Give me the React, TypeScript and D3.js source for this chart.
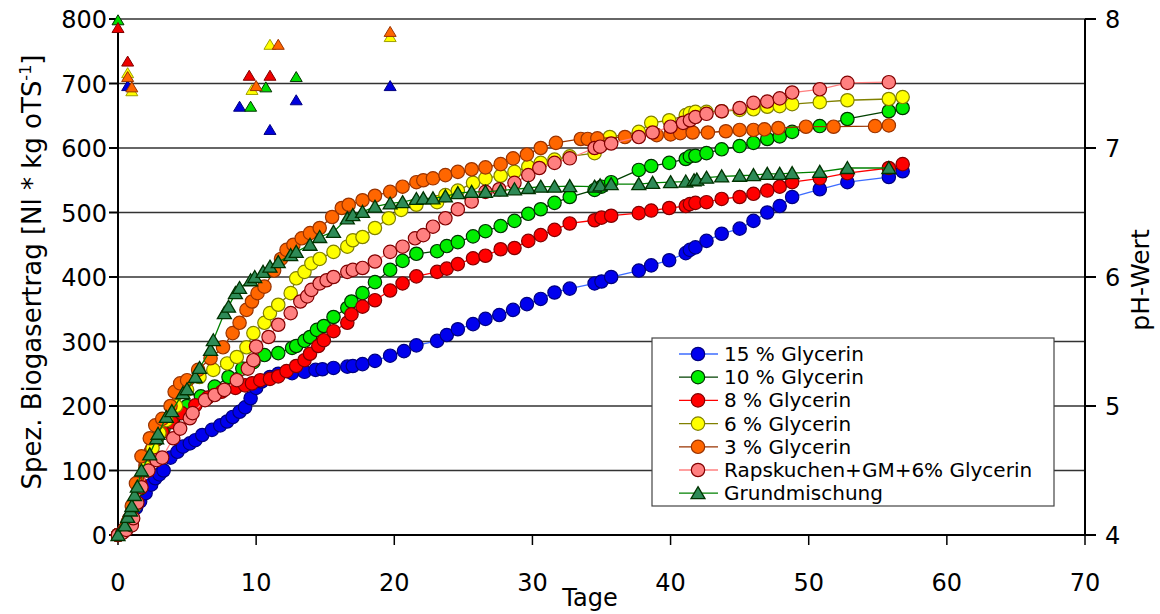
import React from 'react';
import * as d3 from 'd3';

// ---- data (day, Nl/kg oTS) ----
const s15: [number, number][] = [[0,0],[0.4,5],[0.7,15],[1.0,28],[1.3,42],[1.6,52],[2.0,65],[2.4,78],[2.7,88],[3.0,94],[3.3,100],[3.8,120],[4.3,129],[4.7,137],[5.2,142],[5.6,147],[6.1,155],[6.8,163],[7.4,170],[7.9,176],[8.3,183],[8.8,191],[9.2,198],[9.6,212],[10.0,228],[10.4,238],[11.0,245],[11.6,250],[12.6,251],[13.5,253],[14.3,256],[14.8,257],[15.6,259],[16.6,261],[17.0,262],[17.7,265],[18.6,270],[19.7,278],[20.7,285],[21.6,294],[23.1,301],[23.8,310],[24.6,319],[25.7,327],[26.6,335],[27.6,341],[28.6,349],[29.6,358],[30.6,366],[31.6,376],[32.7,382],[34.5,390],[35.0,393],[35.7,400],[37.7,410],[38.6,418],[39.9,426],[41.1,437],[41.4,442],[41.8,446],[42.6,456],[43.7,467],[45.0,475],[46.0,487],[47.0,500],[47.9,510],[48.8,524],[50.8,536],[52.8,547],[55.8,555],[56.8,564]];
const s10: [number, number][] = [[0,0],[0.5,8],[0.8,20],[1.2,45],[1.6,72],[2.0,100],[2.4,128],[2.8,148],[3.3,165],[4.0,180],[5.0,200],[6.0,215],[7.0,230],[8.0,245],[9.0,258],[9.8,268],[10.6,279],[11.6,282],[12.6,290],[12.9,293],[13.5,301],[13.9,307],[14.4,318],[14.9,324],[15.6,338],[16.6,352],[16.9,362],[17.7,375],[18.6,392],[19.7,411],[20.6,425],[21.6,436],[23.1,440],[23.8,448],[24.6,454],[25.7,463],[26.6,471],[27.7,479],[28.7,487],[29.7,498],[30.6,505],[31.6,515],[32.7,524],[34.5,535],[35.0,540],[35.7,547],[37.7,566],[38.6,572],[39.9,577],[41.1,583],[41.4,587],[41.8,588],[42.6,592],[43.7,598],[45.0,603],[46.0,608],[47.0,614],[47.9,618],[48.8,625],[50.8,634],[52.8,645],[55.8,657],[56.8,662]];
const s8: [number, number][] = [[0,0],[0.5,10],[0.8,25],[1.2,50],[1.6,80],[2.0,108],[2.4,130],[2.7,147],[3.2,160],[3.9,175],[4.6,189],[5.6,201],[6.5,213],[7.5,222],[8.5,228],[9.2,232],[9.7,235],[10.3,240],[11.0,242],[11.6,246],[12.2,254],[12.9,262],[13.5,271],[13.9,281],[14.5,293],[14.9,302],[15.6,316],[16.6,329],[16.9,342],[17.7,354],[18.6,364],[19.7,379],[20.6,390],[21.6,401],[23.1,408],[23.8,413],[24.6,420],[25.7,429],[26.6,433],[27.7,443],[28.7,445],[29.7,456],[30.6,465],[31.6,473],[32.7,483],[34.5,488],[35.0,492],[35.7,495],[37.7,499],[38.6,503],[39.9,507],[41.1,510],[41.4,513],[41.8,515],[42.6,516],[43.7,521],[45.0,524],[46.0,529],[47.0,534],[47.9,540],[48.8,547],[50.8,553],[52.8,561],[55.8,569],[56.8,575]];
const s6: [number, number][] = [[0,0],[0.5,8],[0.8,20],[1.2,45],[1.6,75],[2.0,105],[2.5,135],[3.0,158],[3.5,178],[4.2,200],[5.0,225],[5.9,245],[6.9,256],[7.9,266],[8.6,276],[9.3,291],[9.8,313],[10.6,329],[11.0,344],[11.6,357],[12.5,375],[12.9,398],[13.5,408],[14.0,421],[14.6,428],[15.6,439],[16.6,447],[17.0,457],[17.7,462],[18.6,476],[19.6,491],[20.5,504],[21.6,512],[23.1,516],[23.7,527],[24.6,534],[25.7,546],[26.6,553],[27.7,557],[28.7,563],[29.7,571],[30.6,577],[31.6,582],[32.7,587],[34.5,592],[35.0,605],[35.6,617],[37.7,625],[38.6,639],[39.9,643],[41.1,651],[41.4,654],[41.8,656],[42.6,656],[43.7,657],[45.0,659],[46.0,660],[47.0,664],[47.9,665],[48.8,668],[50.8,671],[52.8,674],[55.8,676],[56.8,679]];
const s3: [number, number][] = [[0,0],[0.4,5],[0.7,20],[1.0,45],[1.3,80],[1.7,122],[2.3,150],[2.7,170],[3.2,180],[3.8,200],[4.1,222],[4.5,235],[5.0,240],[5.8,256],[6.7,274],[7.6,291],[8.3,313],[8.8,329],[9.3,349],[9.7,362],[10.1,375],[10.6,385],[11.3,410],[11.8,428],[12.2,442],[12.7,450],[13.3,460],[13.9,468],[14.6,476],[15.5,493],[16.2,507],[16.7,512],[17.7,519],[18.6,526],[19.7,532],[20.6,540],[21.6,547],[22.1,550],[22.8,553],[23.7,558],[24.6,563],[25.6,567],[26.6,570],[27.7,575],[28.6,584],[29.6,590],[30.6,600],[31.7,608],[33.5,614],[34.0,614],[34.7,615],[36.7,617],[39.0,620],[40.0,621],[40.7,623],[41.6,624],[42.7,624],[44.0,626],[45.0,628],[46.0,628],[46.8,629],[47.8,631],[49.8,633],[51.8,633],[54.8,634],[55.8,635]];
const sRK: [number, number][] = [[0,0],[0.3,3],[0.6,8],[1.0,15],[1.1,26],[1.4,50],[1.7,74],[2.2,100],[2.8,116],[3.2,120],[4.0,150],[4.5,165],[5.2,181],[5.4,189],[6.3,209],[7.0,217],[7.7,225],[8.6,240],[9.4,258],[9.8,271],[10.0,292],[10.9,307],[11.6,326],[12.5,344],[13.2,362],[13.7,370],[14.0,380],[14.6,390],[15.1,395],[15.6,400],[16.6,408],[17.0,411],[17.7,414],[18.6,424],[19.7,439],[20.6,447],[21.5,460],[22.1,465],[22.8,478],[23.7,491],[24.6,505],[25.6,517],[26.6,532],[27.6,536],[28.7,546],[29.7,558],[30.5,569],[31.6,577],[32.7,584],[34.5,600],[34.9,602],[35.7,607],[37.7,617],[38.7,624],[40.0,633],[40.9,639],[41.4,643],[41.8,648],[42.6,653],[43.7,657],[45.0,662],[46.0,670],[47.0,672],[47.9,677],[48.8,686],[50.8,691],[52.8,701],[55.8,702]];
const sGM: [number, number][] = [[0,0],[0.5,15],[0.7,28],[0.9,38],[1.0,45],[1.2,62],[1.4,75],[1.7,100],[2.3,125],[2.8,150],[2.9,157],[3.5,183],[3.9,192],[4.7,220],[5.0,226],[5.6,245],[5.9,259],[6.7,287],[6.9,302],[7.7,344],[8.0,354],[8.5,375],[8.8,383],[9.6,395],[9.9,400],[10.5,408],[11.0,416],[11.6,423],[12.5,434],[12.9,439],[13.9,450],[14.6,462],[15.6,470],[16.6,491],[17.0,496],[17.7,501],[18.6,509],[19.7,514],[20.6,516],[21.6,521],[22.1,522],[22.8,522],[23.7,525],[24.6,530],[25.6,532],[26.6,532],[27.7,534],[28.7,536],[29.7,538],[30.6,540],[31.6,540],[32.7,541],[34.5,540],[34.9,542],[35.7,544],[37.7,544],[38.7,546],[40.0,547],[41.1,548],[41.7,550],[41.9,551],[42.6,554],[43.7,556],[45.0,557],[46.0,558],[47.0,560],[47.9,560],[48.8,561],[50.8,563],[52.8,569],[55.8,569]];

// ---- pH values (day, pH) ----
const ph15: [number, number][] = [[0.7,7.48],[8.8,7.32],[11.0,7.14],[12.9,7.37],[19.7,7.48]];
const ph10: [number, number][] = [[0,7.99],[9.6,7.32],[10.7,7.47],[12.9,7.55]];
const ph8: [number, number][] = [[0,7.93],[0.7,7.67],[9.5,7.56],[11.0,7.56]];
const ph6: [number, number][] = [[0.7,7.58],[1.0,7.44],[9.7,7.45],[11.0,7.80],[19.7,7.86]];
const ph3: [number, number][] = [[0.7,7.55],[1.0,7.47],[10.0,7.48],[11.6,7.80],[19.7,7.90]];

const xTicks = [0, 10, 20, 30, 40, 50, 60, 70];
const yTicks = [0, 100, 200, 300, 400, 500, 600, 700, 800];
const phTicks = [4, 5, 6, 7, 8];

const seriesNames = ['15 % Glycerin', '10 % Glycerin', '8 % Glycerin', '6 % Glycerin', '3 % Glycerin', 'Rapskuchen+GM+6% Glycerin', 'Grundmischung'];

const FONT = "'DejaVu Sans', Verdana, sans-serif";

const x = d3.scaleLinear().domain([0, 70]).range([118, 1085]);
const y = d3.scaleLinear().domain([0, 800]).range([535, 19]);
const yPH = d3.scaleLinear().domain([4, 8]).range([535, 19]);

type S = { name: string; data: [number, number][]; line: string; fill: string; stroke: string; tri?: boolean };
const series: S[] = [
  { name: seriesNames[0], data: s15, line: '#3d6cff', fill: '#0000ee', stroke: '#000080' },
  { name: seriesNames[1], data: s10, line: '#004000', fill: '#00ee00', stroke: '#003300' },
  { name: seriesNames[2], data: s8, line: '#ff0000', fill: '#ff0000', stroke: '#800000' },
  { name: seriesNames[3], data: s6, line: '#808000', fill: '#ffff00', stroke: '#808000' },
  { name: seriesNames[4], data: s3, line: '#993300', fill: '#ff6600', stroke: '#993300' },
  { name: seriesNames[5], data: sRK, line: '#ff8080', fill: '#ff8080', stroke: '#800000' },
  { name: seriesNames[6], data: sGM, line: '#008000', fill: '#2e8b57', stroke: '#003300', tri: true },
];

const phSeries = [
  { data: ph15, fill: '#0000dd', stroke: '#000080' },
  { data: ph10, fill: '#00dd00', stroke: '#003300' },
  { data: ph8, fill: '#ee0000', stroke: '#800000' },
  { data: ph6, fill: '#ffff00', stroke: '#a0a000' },
  { data: ph3, fill: '#ff6600', stroke: '#993300' },
];

const line = d3.line<[number, number]>().x(d => x(d[0])).y(d => y(d[1]));
const TRI = 'M0,-6.5L7,5.5L-7,5.5Z';
const TRI_S = 'M0,-5.5L6,4.5L-6,4.5Z';

export default function App() {
  return (
    <svg width={1160} height={614} style={{ display: 'block', position: 'absolute', left: 0, top: 0 }} fontFamily={FONT}>
      <rect width={1160} height={614} fill="#fff" />
      {/* gridlines */}
      {yTicks.filter(t => t > 0).map(t => (
        <line key={t} x1={118} x2={1085} y1={y(t)} y2={y(t)} stroke="#333" strokeWidth={1.3} />
      ))}
      {/* axes */}
      <line x1={118} x2={118} y1={19} y2={536} stroke="#000" strokeWidth={2} />
      <line x1={117} x2={1086} y1={535} y2={535} stroke="#000" strokeWidth={2} />
      <line x1={1085} x2={1085} y1={19} y2={536} stroke="#000" strokeWidth={2} />
      {yTicks.map(t => (
        <g key={t}>
          <line x1={109} x2={118} y1={y(t)} y2={y(t)} stroke="#000" strokeWidth={2} />
          <text x={107} y={y(t) + 9} textAnchor="end" fontSize={24}>{t}</text>
        </g>
      ))}
      {xTicks.map(t => (
        <g key={t}>
          <line x1={x(t)} x2={x(t)} y1={535} y2={545} stroke="#000" strokeWidth={1.5} />
          <text x={x(t)} y={591} textAnchor="middle" fontSize={24}>{t}</text>
        </g>
      ))}
      {phTicks.map(t => (
        <g key={t}>
          <line x1={1085} x2={1096} y1={yPH(t)} y2={yPH(t)} stroke="#000" strokeWidth={2} />
          <text x={1105} y={yPH(t) + 9} textAnchor="start" fontSize={24}>{t}</text>
        </g>
      ))}
      <text x={590} y={606} textAnchor="middle" fontSize={24}>Tage</text>
      <text transform="translate(41,272) rotate(-90)" textAnchor="middle" fontSize={26}>
        Spez. Biogasertrag [Nl * kg oTS<tspan dy={-10} fontSize={16}>-1</tspan><tspan dy={10}>]</tspan>
      </text>
      <text transform="translate(1149,280) rotate(-90)" textAnchor="middle" fontSize={25}>pH-Wert</text>

      {/* series */}
      {series.map((s, i) => (
        <g key={i}>
          <path d={line(s.data) || ''} fill="none" stroke={s.line} strokeWidth={1.3} />
          {s.data.map((d, j) => s.tri ? (
            <path key={j} d={TRI} transform={`translate(${x(d[0])},${y(d[1])})`} fill={s.fill} stroke={s.stroke} strokeWidth={1.3} />
          ) : (
            <circle key={j} cx={x(d[0])} cy={y(d[1])} r={6.7} fill={s.fill} stroke={s.stroke} strokeWidth={1.2} />
          ))}
        </g>
      ))}

      {/* pH markers */}
      {phSeries.map((p, i) => (
        <g key={i}>
          {p.data.map((d, j) => (
            <path key={j} d={TRI_S} transform={`translate(${x(d[0])},${yPH(d[1])})`} fill={p.fill} stroke={p.stroke} strokeWidth={1} />
          ))}
        </g>
      ))}

      {/* legend */}
      <rect x={652} y={338} width={402} height={168} fill="#fff" stroke="#444" strokeWidth={1.2} />
      {series.map((s, i) => {
        const cy = 354 + i * 23.2;
        return (
          <g key={i}>
            <line x1={679} x2={718} y1={cy} y2={cy} stroke={s.line} strokeWidth={1.3} />
            {s.tri ? (
              <path d={TRI} transform={`translate(698,${cy})`} fill={s.fill} stroke={s.stroke} strokeWidth={1.3} />
            ) : (
              <circle cx={698} cy={cy} r={6.7} fill={s.fill} stroke={s.stroke} strokeWidth={1.2} />
            )}
            <text x={724} y={cy + 7} fontSize={20}>{s.name}</text>
          </g>
        );
      })}
    </svg>
  );
}
